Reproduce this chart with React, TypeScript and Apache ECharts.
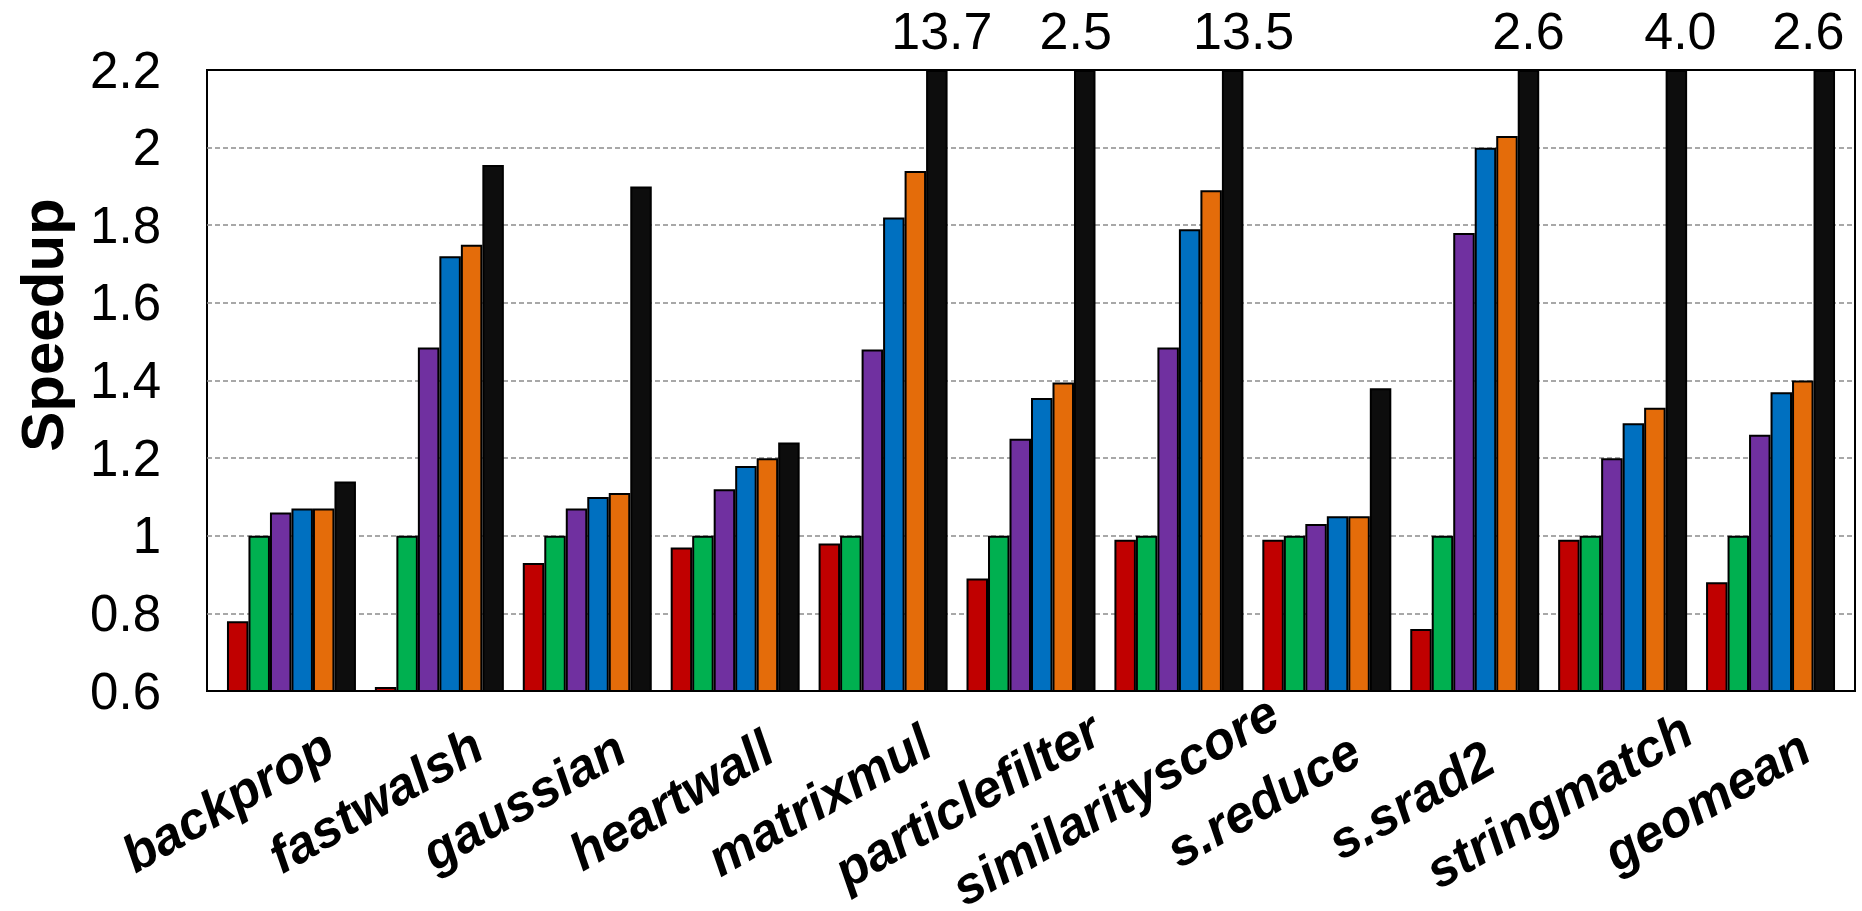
import React, { useEffect, useRef } from "react";
import * as echarts from "echarts";

const categories = [
  "backprop",
  "fastwalsh",
  "gaussian",
  "heartwall",
  "matrixmul",
  "particlefilter",
  "similarityscore",
  "s.reduce",
  "s.srad2",
  "stringmatch",
  "geomean",
];
const redValues = [0.78, 0.61, 0.93, 0.97, 0.98, 0.89, 0.99, 0.99, 0.76, 0.99, 0.88];
const greenValues = [1, 1, 1, 1, 1, 1, 1, 1, 1, 1, 1];
const purpleValues = [1.06, 1.485, 1.07, 1.12, 1.48, 1.25, 1.485, 1.03, 1.78, 1.2, 1.26];
const blueValues = [1.07, 1.72, 1.1, 1.18, 1.82, 1.355, 1.79, 1.05, 2.0, 1.29, 1.37];
const orangeValues = [1.07, 1.75, 1.11, 1.2, 1.94, 1.395, 1.89, 1.05, 2.03, 1.33, 1.4];
const blackValues = [1.14, 1.955, 1.9, 1.24, 13.7, 2.5, 13.5, 1.38, 2.6, 4.0, 2.6];

const yMin = 0.6;
const yMax = 2.2;
const yStep = 0.2;
const yTitle = "Speedup";

// horizontal nudges of the out-of-range value labels (style only)
const overflowLabelDx = [0, 0, 0, 0, 5, -9, 11, 0, 0, 4, -16];

const seriesDefs = [
  { name: "red", values: redValues, color: "#C00000" },
  { name: "green", values: greenValues, color: "#00B050" },
  { name: "purple", values: purpleValues, color: "#7030A0" },
  { name: "blue", values: blueValues, color: "#0070C0" },
  { name: "orange", values: orangeValues, color: "#E46C0A" },
  { name: "black", values: blackValues, color: "#0D0D0D" },
];

const FONT = "'Liberation Sans', Arial, Helvetica, sans-serif";

export default function App() {
  const ref = useRef<HTMLDivElement>(null);

  useEffect(() => {
    document.body.style.margin = "0";
    if (!ref.current) return;
    const chart = echarts.init(ref.current, null, { renderer: "svg" });

    const gridLeft = 207;
    const gridTop = 70;
    const gridWidth = 1648;
    const gridHeight = 621;
    const inset = 10.5;
    const labelShift = -64;

    const series = seriesDefs.map((s, si) => {
      const isLast = si === seriesDefs.length - 1;
      return {
        name: s.name,
        type: "bar",
        xAxisIndex: 1,
        yAxisIndex: 1,
        barGap: 0,
        barCategoryGap: "12.8%",
        clip: true,
        data: s.values.map((v, i) => ({
          value: Math.min(v, yMax),
          raw: v,
          label: isLast ? { offset: [overflowLabelDx[i], 0] } : undefined,
        })),
        itemStyle: {
          color: s.color,
          borderColor: "#000",
          borderWidth: 2,
        },
        label: isLast
          ? {
              show: true,
              position: "top",
              distance: 13,
              fontFamily: FONT,
              fontSize: 52,
              color: "#000",
              formatter: (p: any) =>
                p.data.raw > yMax ? Number(p.data.raw).toFixed(1) : "",
            }
          : { show: false },
      };
    });

    const innerGrid = {
      top: gridTop,
      width: gridWidth - 2 * inset,
      height: gridHeight,
      show: false,
      outerBoundsMode: "none",
      containLabel: false,
    };

    chart.setOption({
      animation: false,
      backgroundColor: "#fff",
      grid: [
        {
          left: gridLeft,
          top: gridTop,
          width: gridWidth,
          height: gridHeight,
          show: true,
          borderColor: "#000",
          borderWidth: 2,
          backgroundColor: "transparent",
          outerBoundsMode: "none",
          containLabel: false,
        },
        { ...innerGrid, left: gridLeft + inset },
        { ...innerGrid, left: gridLeft + inset + labelShift },
      ],
      xAxis: [
        { type: "category", gridIndex: 0, data: categories, show: false },
        {
          type: "category",
          gridIndex: 1,
          data: categories,
          axisLine: { show: false },
          axisTick: { show: false },
          axisLabel: { show: false },
          splitLine: { show: false },
        },
        {
          type: "category",
          gridIndex: 2,
          data: categories,
          axisLine: { show: false },
          axisTick: { show: false },
          splitLine: { show: false },
          axisLabel: {
            interval: 0,
            rotate: 30,
            align: "center",
            verticalAlign: "middle",
            margin: 109,
            fontFamily: FONT,
            fontSize: 52,
            fontWeight: "bold",
            fontStyle: "italic",
            color: "#000",
          },
        },
      ],
      yAxis: [
        {
          type: "value",
          gridIndex: 0,
          min: yMin,
          max: yMax,
          interval: yStep,
          axisLine: { show: false },
          axisTick: { show: false },
          axisLabel: {
            margin: 46,
            fontFamily: FONT,
            fontSize: 51,
            color: "#000",
          },
          splitLine: {
            show: true,
            showMinLine: false,
            showMaxLine: false,
            lineStyle: { color: "#8c8c8c", width: 1.6, type: [5, 3] },
          },
        },
        {
          type: "value",
          gridIndex: 1,
          min: yMin,
          max: yMax,
          interval: yStep,
          show: false,
          splitLine: { show: false },
        },
        {
          type: "value",
          gridIndex: 2,
          min: yMin,
          max: yMax,
          interval: yStep,
          show: false,
          splitLine: { show: false },
        },
      ],
      graphic: [
        {
          type: "text",
          x: 42,
          y: 325,
          rotation: Math.PI / 2,
          style: {
            text: yTitle,
            font: `bold 60px ${FONT}`,
            fill: "#000",
            textAlign: "center",
            textVerticalAlign: "middle",
          },
        },
      ],
      series,
    });

    return () => chart.dispose();
  }, []);

  return (
    <div
      ref={ref}
      style={{ position: "fixed", left: 0, top: 0, width: 1862, height: 911 }}
    />
  );
}
